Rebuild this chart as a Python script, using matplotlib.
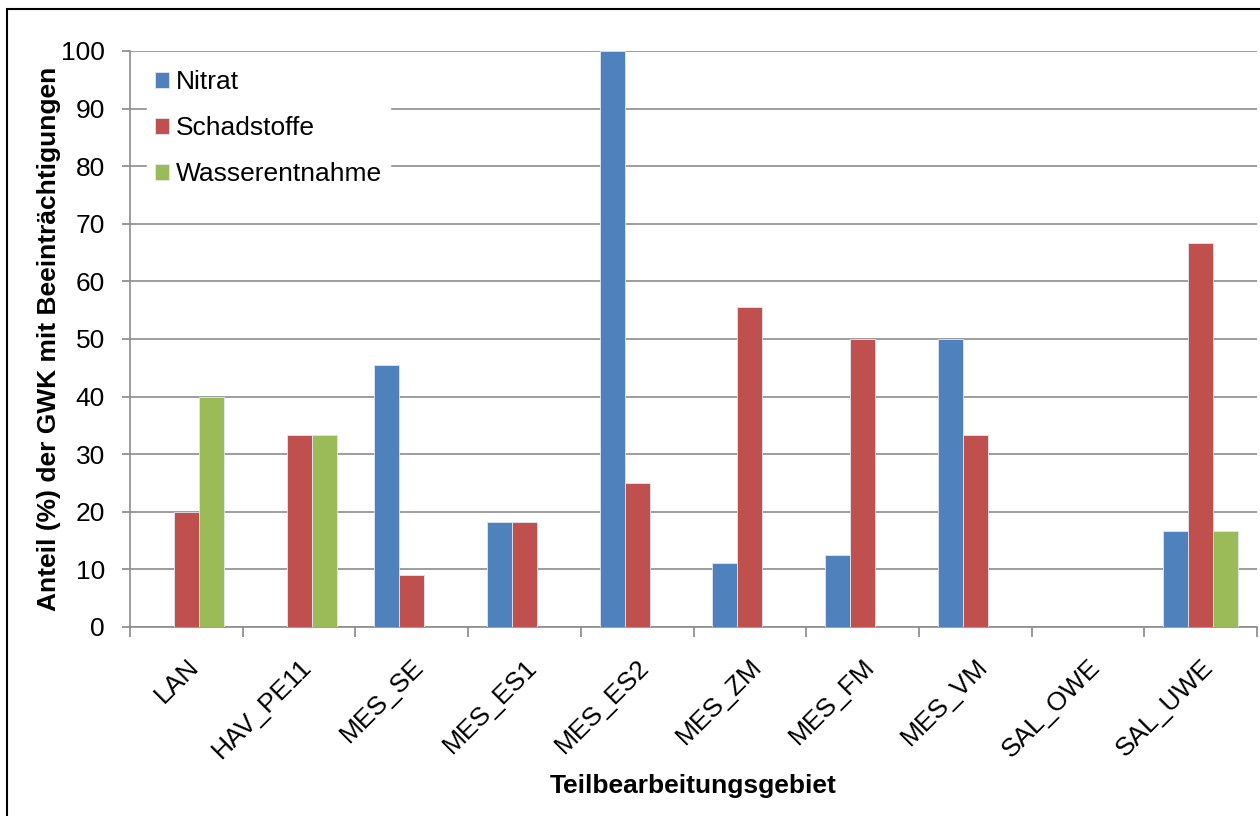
import numpy as np
import matplotlib
matplotlib.use("Agg")
from matplotlib import pyplot as plt
from matplotlib.patches import Rectangle

plt.rcParams['font.family'] = ['Liberation Sans', 'DejaVu Sans']

categories = ['LAN', 'HAV_PE11', 'MES_SE', 'MES_ES1', 'MES_ES2',
              'MES_ZM', 'MES_FM', 'MES_VM', 'SAL_OWE', 'SAL_UWE']
nitrat = [0, 0, 45.45, 18.18, 100, 11.11, 12.5, 50, 0, 16.67]
schadstoffe = [20, 33.33, 9.09, 18.18, 25, 55.56, 50, 33.33, 0, 66.67]
wasserentnahme = [40, 33.33, 0, 0, 0, 0, 0, 0, 0, 16.67]

series = [('Nitrat', nitrat, '#4F81BD'),
          ('Schadstoffe', schadstoffe, '#C0504D'),
          ('Wasserentnahme', wasserentnahme, '#9BBB59')]

fig = plt.figure(figsize=(12.6, 8.16), dpi=100)
ax = fig.add_axes([130 / 1260, 1 - 627 / 816, (1257 - 130) / 1260, (627 - 51) / 816])

x = np.arange(len(categories))
bw = (2 / 3) / 3
for i, (name, vals, col) in enumerate(series):
    ax.bar(x + (i - 1) * bw, vals, width=bw, color=col, edgecolor='#dfe8f3',
           linewidth=0.6, label=name, zorder=3)

ax.set_xlim(-0.5, len(categories) - 0.5)
ax.set_ylim(0, 100)
ax.set_yticks(range(0, 101, 10))
ax.tick_params(axis='y', labelsize=19, length=6, width=1.2, color='#888888', pad=12)
ax.yaxis.grid(True, color='#8c8c8c', linewidth=1.2, zorder=0)
ax.set_axisbelow(True)

ax.set_xticks(x)
ax.set_xticklabels(categories, rotation=45, ha='right', rotation_mode='anchor', fontsize=19)
ax.set_xticks(np.arange(-0.5, len(categories)), minor=True)
ax.tick_params(axis='x', which='major', length=0, pad=20)
ax.tick_params(axis='x', which='minor', length=7, width=1.2, color='#888888')

for s in ['top', 'right']:
    ax.spines[s].set_visible(False)
for s in ['left', 'bottom']:
    ax.spines[s].set_color('#8c8c8c')
    ax.spines[s].set_linewidth(1.2)

ax.set_ylabel('Anteil (%) der GWK mit Beeinträchtigungen', fontsize=19, fontweight='bold', labelpad=0)
ax.set_xlabel('Teilbearbeitungsgebiet', fontsize=19, fontweight='bold', labelpad=8)

leg = ax.legend(loc='upper left', bbox_to_anchor=(0.015, 0.98), fontsize=19, frameon=True,
                handlelength=0.55, handleheight=0.55, handletextpad=0.25, labelspacing=0.83,
                borderaxespad=0, borderpad=0.3, fancybox=False)
leg.get_frame().set_edgecolor('white')
leg.get_frame().set_facecolor('white')
leg.get_frame().set_alpha(1)
leg.set_zorder(5)

fig.patches.append(Rectangle((7 / 1260, -0.01), 1.1, 1 - 9 / 816 + 0.01, transform=fig.transFigure,
                             fill=False, edgecolor='black', linewidth=1.5))

fig.savefig('out.png', dpi=100)
